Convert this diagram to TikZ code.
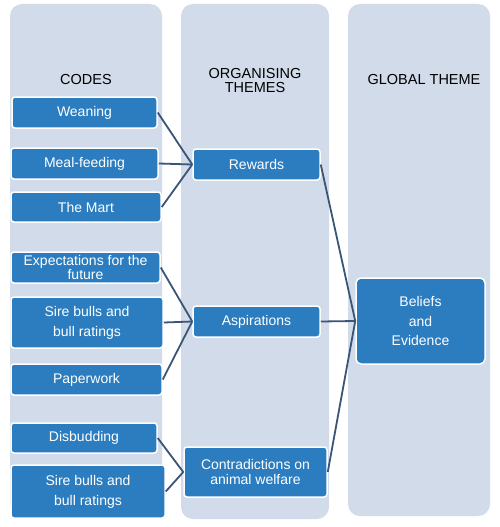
\documentclass[tikz,border=0pt]{standalone}
\usepackage{fontspec}
\setmainfont{Liberation Sans}
\definecolor{colbg}{HTML}{D1DBE9}
\definecolor{boxblue}{HTML}{2B7DC0}
\definecolor{linkcol}{HTML}{3A5578}
\tikzset{
  column/.style={fill=colbg, draw=none, rounded corners=12pt},
  codebox/.style={rectangle, rounded corners=3pt, fill=boxblue, draw=white, line width=1.5pt,
    text=white, align=center, inner sep=0pt, font=\fontsize{14}{16}\selectfont},
  header/.style={align=center, inner sep=0pt, text=black, font=\fontsize{14.5}{15}\selectfont},
  link/.style={draw=linkcol, line width=1.8pt}
}
\begin{document}
\begin{tikzpicture}[x=1pt,y=-1pt]
\useasboundingbox (0,0) rectangle (500,527);
\fill[white] (0,0) rectangle (500,527);
% columns
\path[column] (10,4) rectangle (162,516);
\path[column] (181,4) rectangle (329,519);
\path[column] (348,4) rectangle (490,516);
% headers
\node[header] (hcodes) at (86,80) {CODES};
\node[header] (hthemes) at (255,80.5) {ORGANISING\\[-1.5pt]THEMES};
\node[header] (hglobal) at (424,80) {GLOBAL THEME};
% code boxes
\node[codebox, minimum width=145pt, minimum height=31pt] (w1) at (84.5,112.5) {Weaning};
\node[codebox, minimum width=147pt, minimum height=31pt] (w2) at (84.5,163.5) {Meal-feeding};
\node[codebox, minimum width=150pt, minimum height=30pt] (w3) at (86,207) {The Mart};
\node[codebox, minimum width=149pt, minimum height=31pt, font=\fontsize{14}{14}\selectfont] (a1) at (85.5,267.5) {Expectations for the\\future};
\node[codebox, minimum width=152pt, minimum height=51pt, font=\fontsize{14}{20}\selectfont] (a2) at (87,322.5) {Sire bulls and\\bull ratings};
\node[codebox, minimum width=151pt, minimum height=31pt] (a3) at (86.5,379.5) {Paperwork};
\node[codebox, minimum width=146pt, minimum height=30pt] (c1) at (84,438) {Disbudding};
\node[codebox, minimum width=154pt, minimum height=53pt, font=\fontsize{14}{20}\selectfont] (c2) at (88,491.5) {Sire bulls and\\bull ratings};
% theme boxes
\node[codebox, minimum width=127pt, minimum height=31pt] (t1) at (256.5,164.5) {Rewards};
\node[codebox, minimum width=127pt, minimum height=31pt] (t2) at (256.5,321.5) {Aspirations};
\node[codebox, minimum width=143pt, minimum height=50pt, font=\fontsize{14}{15}\selectfont] (t3) at (255.5,472) {Contradictions on\\animal welfare};
% global box
\node[codebox, minimum width=129pt, minimum height=86pt, rounded corners=5pt, font=\fontsize{14}{19.5}\selectfont] (g) at (420.5,321) {Beliefs\\and\\Evidence};
% connectors
\draw[link] (w1.east) -- (t1.west);
\draw[link] (w2.east) -- (t1.west);
\draw[link] (w3.east) -- (t1.west);
\draw[link] (a1.east) -- (t2.west);
\draw[link] (a2.east) -- (t2.west);
\draw[link] (a3.east) -- (t2.west);
\draw[link] (c1.east) -- (t3.west);
\draw[link] (c2.east) -- (t3.west);
\draw[link] (t1.east) -- (g.west);
\draw[link] (t2.east) -- (g.west);
\draw[link] (t3.east) -- (g.west);
\end{tikzpicture}
\end{document}
